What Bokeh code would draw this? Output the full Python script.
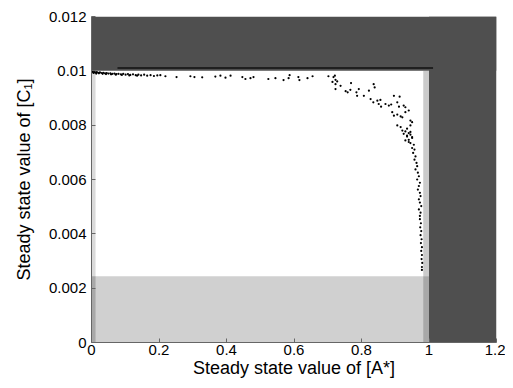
from bokeh.plotting import figure
from bokeh.models import Range1d, FixedTicker
from bokeh.embed import file_html
from bokeh.resources import INLINE

# ---- data ----
A_star = [
    0.004, 0.008, 0.012, 0.016, 0.02, 0.025, 0.03, 0.035, 0.04, 0.045, 0.05, 0.056, 0.062, 0.068,
    0.074, 0.08, 0.087, 0.094, 0.101, 0.108, 0.115, 0.123, 0.131, 0.139, 0.147, 0.156, 0.165,
    0.175, 0.185, 0.195,
    0.006, 0.014, 0.022, 0.033, 0.043, 0.058, 0.072, 0.09, 0.112, 0.135,
    0.204, 0.219, 0.252, 0.293, 0.305, 0.328, 0.367, 0.382, 0.397, 0.412, 0.447, 0.456, 0.471,
    0.48, 0.524, 0.545, 0.569, 0.584, 0.587, 0.613, 0.616, 0.64, 0.655, 0.702, 0.717, 0.714,
    0.723, 0.723,
    0.721, 0.723, 0.728, 0.738, 0.753, 0.759, 0.769, 0.767, 0.785, 0.792, 0.787, 0.807, 0.822,
    0.836, 0.839, 0.827, 0.835, 0.847, 0.851, 0.856, 0.858, 0.871, 0.881, 0.888, 0.896, 0.913,
    0.906, 0.911, 0.891, 0.896, 0.906, 0.916, 0.925, 0.93, 0.94, 0.93, 0.945, 0.95, 0.921,
    0.906, 0.916, 0.921, 0.935, 0.945, 0.925, 0.935, 0.945, 0.93, 0.94, 0.95,
    0.93, 0.94, 0.945, 0.935, 0.95, 0.94, 0.945, 0.955, 0.95, 0.957, 0.953, 0.96, 0.957, 0.963,
    0.965, 0.96, 0.967, 0.97, 0.965, 0.973, 0.97, 0.967, 0.973, 0.975, 0.97, 0.973, 0.977, 0.97,
    0.975, 0.973,
    0.973, 0.976, 0.974, 0.977, 0.975, 0.978, 0.976, 0.979, 0.977, 0.979, 0.978, 0.98, 0.979,
    0.979,
]
C1 = [
    0.00996, 0.00995, 0.00994, 0.00995, 0.00993, 0.00994, 0.00992, 0.00993, 0.00991, 0.00992,
    0.0099, 0.00991, 0.00989, 0.0099, 0.00988, 0.00989, 0.00987, 0.00989, 0.00986, 0.00988,
    0.00985, 0.00987, 0.00984, 0.00986, 0.00983, 0.00986, 0.00982, 0.00984, 0.00981, 0.00983,
    0.00992, 0.0099, 0.00991, 0.00989, 0.00988, 0.00987, 0.00986, 0.00985, 0.00983, 0.00982,
    0.00984, 0.0098, 0.00977, 0.0098, 0.00977, 0.00976, 0.00979, 0.00982, 0.00975, 0.00982,
    0.00977, 0.0097, 0.00973, 0.00977, 0.0097, 0.00973, 0.00966, 0.00973, 0.00984, 0.00977,
    0.00966, 0.00973, 0.0098, 0.0098, 0.00977, 0.00959, 0.00951, 0.00933,
    0.00982, 0.00967, 0.00961, 0.00945, 0.00925, 0.00921, 0.00955, 0.0093, 0.00921, 0.00933,
    0.00908, 0.00908, 0.00927, 0.00951, 0.00939, 0.00896, 0.00884, 0.0089, 0.00878, 0.00893,
    0.00868, 0.00878, 0.00872, 0.00876, 0.00908, 0.00905, 0.00884, 0.00868, 0.00848, 0.00835,
    0.00839, 0.00832, 0.00872, 0.00866, 0.00854, 0.00848, 0.00817, 0.00811, 0.00829, 0.00799,
    0.00793, 0.0078, 0.00787, 0.00799, 0.00768, 0.00762, 0.00775, 0.00744, 0.00738, 0.00756,
    0.00777, 0.00771, 0.00765, 0.00758, 0.00753, 0.00746, 0.00734, 0.00728, 0.00716, 0.0071,
    0.00698, 0.00685, 0.00673, 0.00661, 0.00649, 0.00637, 0.00625, 0.00612, 0.006, 0.00588,
    0.00576, 0.00563, 0.00551, 0.00539, 0.00527, 0.00515, 0.00502, 0.0049, 0.00478, 0.00466,
    0.00454, 0.00439, 0.00424, 0.0041, 0.00395, 0.0038, 0.00366, 0.00351, 0.00337, 0.00322,
    0.00307, 0.00293, 0.00278, 0.00267,
]

# shaded regions (data bounds)
dark_left = [0.0, 1.0]
dark_right = [1.2, 1.2]
dark_bottom = [0.01, 0.0]
dark_top = [0.012, 0.012]

light_left = [0.0, 0.0, 0.983]
light_right = [1.0, 0.012, 1.0]
light_bottom = [0.0, 0.00244, 0.00244]
light_top = [0.00244, 0.01, 0.01]
light_colors = ["#d0d0d0", "#dadada", "#cbcbcb"]

over_left = [0.0, 0.983]
over_right = [0.012, 1.0]
over_bottom = [0.0, 0.0]
over_top = [0.00244, 0.00244]

ref_x = [0.077, 1.012]
ref_y = [0.0101, 0.0101]

x_ticks = [0, 0.2, 0.4, 0.6, 0.8, 1.0, 1.2]
x_labels = ["0", "0.2", "0.4", "0.6", "0.8", "1", "1.2"]
y_ticks = [0, 0.002, 0.004, 0.006, 0.008, 0.01, 0.012]
y_labels = ["0", "0.002", "0.004", "0.006", "0.008", "0.01", "0.012"]

FONT = "Liberation Sans"

p = figure(width=505, height=380, output_backend="svg", toolbar_location=None,
           x_range=Range1d(0, 1.2), y_range=Range1d(0, 0.012),
           min_border_left=91, min_border_right=9, min_border_top=16, min_border_bottom=35)
p.outline_line_color = None
p.grid.visible = False
p.background_fill_color = "white"
p.border_fill_color = "white"

p.quad(left=light_left, right=light_right, bottom=light_bottom, top=light_top,
       fill_color=light_colors, line_color=None)
p.quad(left=over_left, right=over_right, bottom=over_bottom, top=over_top,
       fill_color="#a8a8a8", line_color=None)
p.quad(left=dark_left, right=dark_right, bottom=dark_bottom, top=dark_top,
       fill_color="#4f4f4f", line_color=None)
p.line(ref_x, ref_y, line_color="#111111", line_width=1.5)

p.scatter(A_star, C1, marker="circle", size=2.2, fill_color="black", line_color=None)

p.xaxis.ticker = FixedTicker(ticks=x_ticks)
p.yaxis.ticker = FixedTicker(ticks=y_ticks)
p.xaxis.major_label_overrides = {t: l for t, l in zip(x_ticks, x_labels)}
p.yaxis.major_label_overrides = {t: l for t, l in zip(y_ticks, y_labels)}

for ax in (p.xaxis[0], p.yaxis[0]):
    ax.axis_line_color = "#666666"
    ax.major_tick_line_color = "#666666"
    ax.major_tick_in = 4
    ax.major_tick_out = 0
    ax.minor_tick_line_color = None
    ax.major_label_text_font = FONT
    ax.major_label_text_font_size = "15px"
    ax.major_label_text_color = "black"
    ax.axis_label_text_font = FONT
    ax.axis_label_text_font_size = "18px"
    ax.axis_label_text_font_style = "normal"
    ax.axis_label_text_color = "black"

p.xaxis.axis_label = "Steady state value of [A*]"
p.yaxis.axis_label = "Steady state value of [C\u2081]"
p.xaxis.major_label_standoff = 2
p.xaxis.axis_label_standoff = 0
p.yaxis.major_label_standoff = 5
p.yaxis.axis_label_standoff = 12

open("out.html", "w").write(file_html(p, INLINE))
